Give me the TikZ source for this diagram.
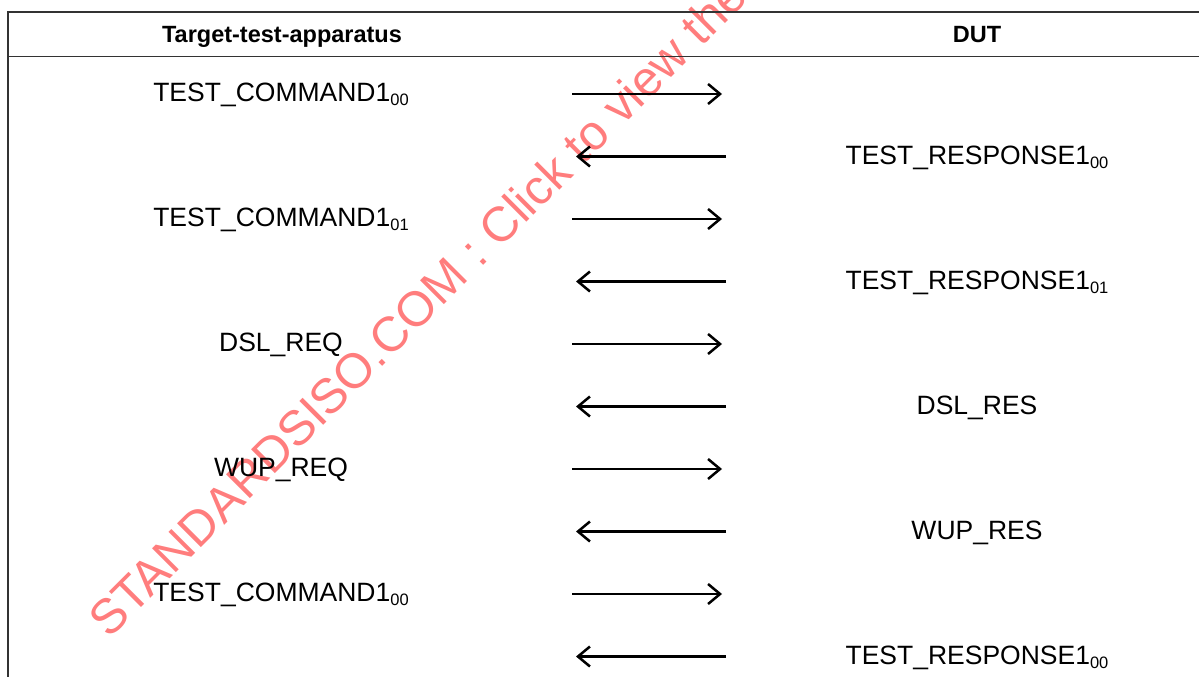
\documentclass[tikz,border=0pt]{standalone}
\usepackage{fontspec}
\setmainfont{Liberation Sans}
\usetikzlibrary{arrows.meta}
\definecolor{wmred}{RGB}{255,125,125}
\newcommand\lsub[1]{\raisebox{-4pt}{\fontsize{16.5}{18}\selectfont #1}}
\begin{document}
\begin{tikzpicture}[x=1pt,y=-1pt,
  frameline/.style={line width=1.8pt, draw=black!80},
  hdr/.style={font=\fontsize{23.5}{28}\selectfont\bfseries, anchor=base, inner sep=0pt},
  lbl/.style={font=\fontsize{26.5}{31}\selectfont, anchor=base, inner sep=0pt},
  msg/.style={line width=2.5pt, -{Straight Barb[length=12pt,width=20pt,line width=2.5pt]}},
  wmark/.style={rotate=45, anchor=base west, inner sep=0pt, text=wmred, font=\fontsize{49}{58}\selectfont}]
\useasboundingbox (0,0) rectangle (1199,677);
% watermark
\node[wmark] (wm) at (109,640) {STANDARDSISO.COM : Click to view the};
% frame
\coordinate (tl) at (8,12);
\coordinate (tr) at (1199,12);
\coordinate (sl) at (8,56.5);
\coordinate (sr) at (1199,56.5);
\coordinate (bl) at (8,677);
\draw[frameline] (tr) -- (tl) -- (bl);
\draw[frameline] (sl) -- (sr);
% headers
\node[hdr] (h1) at (282,43) {Target-test-apparatus};
\node[hdr] (h2) at (977,43) {DUT};
% left labels
\node[lbl] (l1) at (281,101) {TEST\_COMMAND1\lsub{00}};
\node[lbl] (l2) at (281,226) {TEST\_COMMAND1\lsub{01}};
\node[lbl] (l3) at (281,351) {DSL\_REQ};
\node[lbl] (l4) at (281,476) {WUP\_REQ};
\node[lbl] (l5) at (281,601) {TEST\_COMMAND1\lsub{00}};
% right labels
\node[lbl] (r1) at (977,164.5) {TEST\_RESPONSE1\lsub{00}};
\node[lbl] (r2) at (977,289.5) {TEST\_RESPONSE1\lsub{01}};
\node[lbl] (r3) at (977,414.5) {DSL\_RES};
\node[lbl] (r4) at (977,539.5) {WUP\_RES};
\node[lbl] (r5) at (977,664.5) {TEST\_RESPONSE1\lsub{00}};
% arrow end points
\foreach \i/\y in {1/94,2/219,3/344,4/469,5/594}{
  \coordinate (ra\i) at (572,\y);
  \coordinate (rb\i) at (722,\y);
  \draw[msg] (ra\i) -- (rb\i);
}
\foreach \i/\y in {1/156.5,2/281.5,3/406.5,4/531.5,5/656.5}{
  \coordinate (la\i) at (726,\y);
  \coordinate (lb\i) at (576,\y);
  \draw[msg] (la\i) -- (lb\i);
}
\end{tikzpicture}
\end{document}
